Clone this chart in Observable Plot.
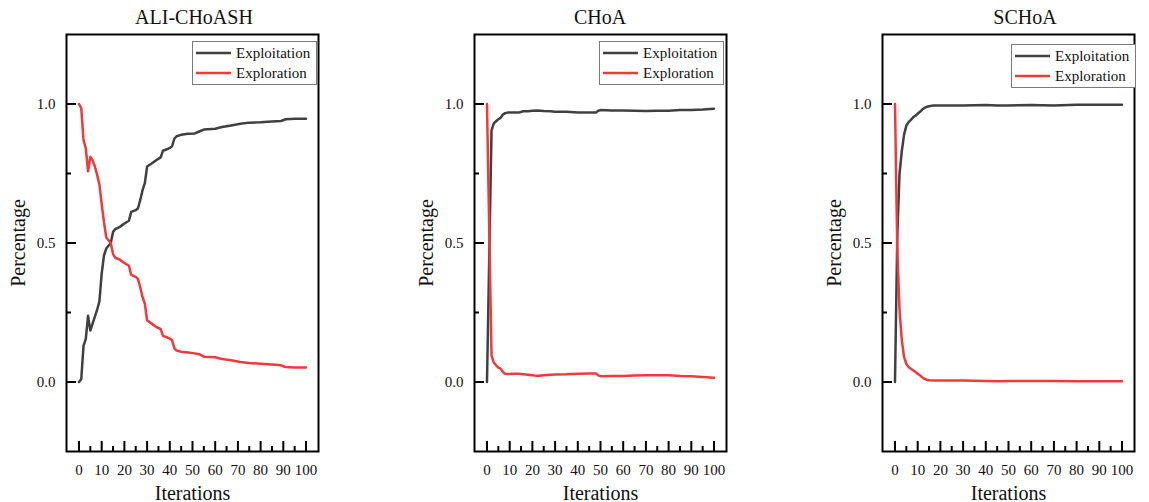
<!DOCTYPE html>
<html>
<head>
<meta charset="utf-8">
<script src="https://cdn.jsdelivr.net/npm/d3@7"></script>
<script src="https://cdn.jsdelivr.net/npm/@observablehq/plot@0.6"></script>
<style>
  html, body { margin: 0; padding: 0; background: #fff; }
  #chart { position: relative; width: 1149px; height: 502px; font-family: "Liberation Serif", "Times New Roman", serif; color: #111; }
  .panel { position: absolute; top: 0; }
  .title { position: absolute; top: 6px; font-size: 20px; transform: translateX(-50%); white-space: nowrap; }
  .legend { position: absolute; border: 1px solid #7a7a7a; background: #fff; padding: 1px 6px 1px 3px; font-size: 15px; }
  .legend .row { display: flex; align-items: center; height: 20px; }
  .legend svg { margin-right: 5px; }
  svg g[aria-label="x-axis label"] text, svg g[aria-label="y-axis label"] text { font-size: 20px; }
</style>
</head>
<body>
<div id="chart"></div>
<script>
// Series names and colours
const seriesNames = ["Exploitation", "Exploration"];
const seriesColors = ["#404040", "#f03a3a"];

// Axis ticks
const xMajor = [0, 10, 20, 30, 40, 50, 60, 70, 80, 90, 100];
const xMinor = [5, 15, 25, 35, 45, 55, 65, 75, 85, 95];
const yMajor = [0, 0.5, 1.0];
const yMinor = [0.25, 0.75];

// ALI-CHoASH
const aliIter = [0,1,2,3,4,5,6,7,8,9,10,11,12,13,14,15,16,18,20,22,23,25,26,27,28,29,30,32,34,36,37,39,40,41,42,43,45,48,51,53,55,60,63,67,71,75,80,85,89,91,95,100];
const aliExploit = [0,0.01,0.13,0.155,0.238,0.185,0.21,0.235,0.26,0.29,0.39,0.455,0.48,0.49,0.5,0.54,0.55,0.558,0.57,0.58,0.612,0.618,0.625,0.655,0.69,0.715,0.775,0.786,0.798,0.808,0.832,0.838,0.842,0.848,0.875,0.884,0.889,0.893,0.894,0.901,0.908,0.911,0.917,0.923,0.929,0.933,0.934,0.937,0.939,0.945,0.947,0.947];
const aliExplore = [1.0,0.985,0.87,0.84,0.758,0.81,0.797,0.775,0.745,0.71,0.64,0.575,0.52,0.51,0.5,0.46,0.447,0.44,0.428,0.418,0.385,0.378,0.37,0.34,0.305,0.282,0.222,0.21,0.198,0.19,0.166,0.16,0.156,0.15,0.122,0.113,0.109,0.106,0.103,0.1,0.091,0.089,0.083,0.078,0.072,0.068,0.066,0.063,0.06,0.054,0.052,0.052];

// CHoA
const choaIter = [0,2,3,4,5,6,7,8,9,10,12,14,16,18,20,22,25,28,30,35,40,45,48,49,50,55,60,65,70,75,80,85,90,95,100];
const choaExploit = [0,0.905,0.93,0.938,0.945,0.95,0.962,0.967,0.969,0.969,0.969,0.969,0.974,0.974,0.976,0.977,0.975,0.974,0.972,0.972,0.969,0.969,0.969,0.976,0.978,0.977,0.977,0.976,0.975,0.976,0.976,0.978,0.978,0.98,0.983];
const choaExplore = [1.0,0.095,0.07,0.06,0.052,0.048,0.036,0.03,0.029,0.029,0.03,0.03,0.028,0.026,0.024,0.022,0.024,0.026,0.027,0.028,0.03,0.031,0.031,0.024,0.021,0.022,0.022,0.023,0.024,0.024,0.024,0.022,0.021,0.018,0.015];

// SCHoA
const schoaIter = [0,1,2,3,4,5,6,7,8,9,10,11,12,13,14,15,17,20,30,40,45,50,60,70,80,90,100];
const schoaExploit = [0,0.52,0.75,0.83,0.89,0.922,0.935,0.943,0.952,0.958,0.965,0.972,0.98,0.986,0.99,0.992,0.995,0.995,0.995,0.996,0.995,0.995,0.996,0.995,0.997,0.997,0.997];
const schoaExplore = [1.0,0.48,0.26,0.15,0.09,0.065,0.054,0.048,0.042,0.036,0.03,0.024,0.017,0.011,0.008,0.006,0.005,0.005,0.005,0.004,0.003,0.004,0.004,0.004,0.003,0.003,0.003];

const panels = [
  {title: "ALI-CHoASH", iters: aliIter, exploit: aliExploit, explore: aliExplore,
   left: 0, marginLeft: 66, marginRight: 20, titleX: 194, legend: {left: 192, top: 41}},
  {title: "CHoA", iters: choaIter, exploit: choaExploit, explore: choaExplore,
   left: 400, marginLeft: 74, marginRight: 20, titleX: 600, legend: {left: 599, top: 41}},
  {title: "SCHoA", iters: schoaIter, exploit: schoaExploit, explore: schoaExplore,
   left: 820, marginLeft: 62, marginRight: 15, titleX: 1025, legend: {left: 1011, top: 44}}
];

const H = 502, mTop = 34, mBottom = 51, frameW = 252;
const innerH = H - mTop - mBottom;
const root = document.getElementById("chart");

for (const p of panels) {
  const rows = [];
  p.iters.forEach((it, k) => {
    rows.push({it, v: p.exploit[k], s: seriesNames[0]});
    rows.push({it, v: p.explore[k], s: seriesNames[1]});
  });
  const width = p.marginLeft + frameW + p.marginRight;
  const svg = Plot.plot({
    width, height: H,
    marginLeft: p.marginLeft, marginRight: p.marginRight, marginTop: mTop, marginBottom: mBottom,
    style: {fontFamily: "Liberation Serif, Times New Roman, serif", fontSize: "15px", color: "#111", background: "transparent"},
    x: {domain: [-5.5, 105.5], label: "Iterations"},
    y: {domain: [-0.25, 1.25], label: "Percentage"},
    color: {domain: seriesNames, range: seriesColors},
    marks: [
      Plot.axisX(xMajor, {tickSize: 0, tickPadding: 13, tickFormat: d => String(d),
        label: "Iterations", labelAnchor: "center", labelOffset: 48, labelArrow: "none"}),
      Plot.axisY(yMajor, {tickSize: 0, tickPadding: 11, tickFormat: d3.format(".1f"),
        label: "Percentage", labelAnchor: "center", labelOffset: 56, labelArrow: "none"}),
      // inward ticks along the bottom and left edges
      Plot.ruleX(xMajor, {x: d => d, insetTop: innerH - 10, stroke: "#000", strokeWidth: 2}),
      Plot.ruleX(xMinor, {x: d => d, insetTop: innerH - 5, stroke: "#000", strokeWidth: 2}),
      Plot.ruleY(yMajor, {y: d => d, insetRight: frameW - 10, stroke: "#000", strokeWidth: 2}),
      Plot.ruleY(yMinor, {y: d => d, insetRight: frameW - 5, stroke: "#000", strokeWidth: 2}),
      Plot.line(rows, {x: "it", y: "v", z: "s", stroke: "s", strokeWidth: 2.5, strokeLinejoin: "round"}),
      Plot.frame({stroke: "#000", strokeWidth: 2})
    ]
  });
  svg.classList.add("panel");
  svg.style.left = p.left + "px";
  root.appendChild(svg);

  const t = document.createElement("div");
  t.className = "title";
  t.style.left = p.titleX + "px";
  t.textContent = p.title;
  root.appendChild(t);

  const lg = document.createElement("div");
  lg.className = "legend";
  lg.style.left = p.legend.left + "px";
  lg.style.top = p.legend.top + "px";
  seriesNames.forEach((name, k) => {
    const row = document.createElement("div");
    row.className = "row";
    row.innerHTML = `<svg width="35" height="6"><line x1="0" x2="35" y1="3" y2="3" stroke="${seriesColors[k]}" stroke-width="2.5"/></svg><span>${name}</span>`;
    lg.appendChild(row);
  });
  root.appendChild(lg);
}
</script>
</body>
</html>
